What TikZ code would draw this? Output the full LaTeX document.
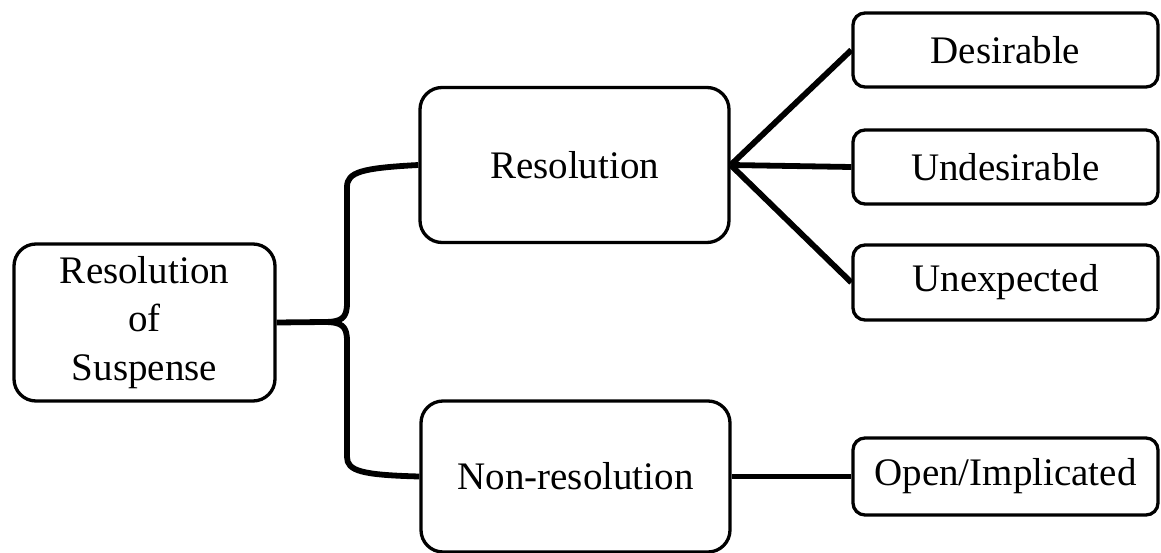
\documentclass[tikz,border=0pt]{standalone}
\usepackage{fontspec}
\setmainfont{Liberation Serif}
\begin{document}
\begin{tikzpicture}[x=1pt,y=-1pt,
  box/.style={draw, line width=3.3pt, inner sep=0pt, align=center,
    font=\fontsize{39}{48.5}\selectfont},
  bigbox/.style={box, rounded corners=22pt, minimum width=309pt, minimum height=155pt},
  leafbox/.style={box, rounded corners=12pt, minimum width=305pt, minimum height=74pt},
  link/.style={line width=5.8pt}]
\useasboundingbox (0,0) rectangle (1161,553);

% boxes
\node[box, rounded corners=22pt, minimum width=261pt, minimum height=157pt]
  (root) at (144.5,322.5) {Resolution\\of\\Suspense};
\node[bigbox] (res) at (574.5,165) {Resolution};
\node[bigbox, minimum height=151pt] (nonres) at (575.5,476.5) {Non-resolution};
\node[leafbox] (des) at (1005.5,50) {Desirable};
\node[leafbox] (undes) at (1005.5,167) {Undesirable};
\node[leafbox, minimum height=75pt] (unexp) at (1005.5,282.5) {Unexpected};
\node[leafbox, minimum height=77pt] (open) at (1005.5,476.5) {Open/Implicated};

% brace joining the root to its two branches
\coordinate (tip) at (324,322);
\draw[link, line join=round]
  (root.east) -- (tip)
  .. controls (342,322) and (347,318) .. (347,303)
  -- (347,187)
  .. controls (347,172) and (362,168) .. (res.west);
\draw[link, line join=round]
  (tip)
  .. controls (342,322) and (347,326) .. (347,341)
  -- (347,457)
  .. controls (347,471) and (362,475) .. (nonres.west);

% branch links
\draw[link] (res.east) -- (des.west);
\draw[link] (res.east) -- (undes.west);
\draw[link] (res.east) -- (unexp.west);
\draw[link] (nonres.east) -- (open.west);
\end{tikzpicture}
\end{document}
